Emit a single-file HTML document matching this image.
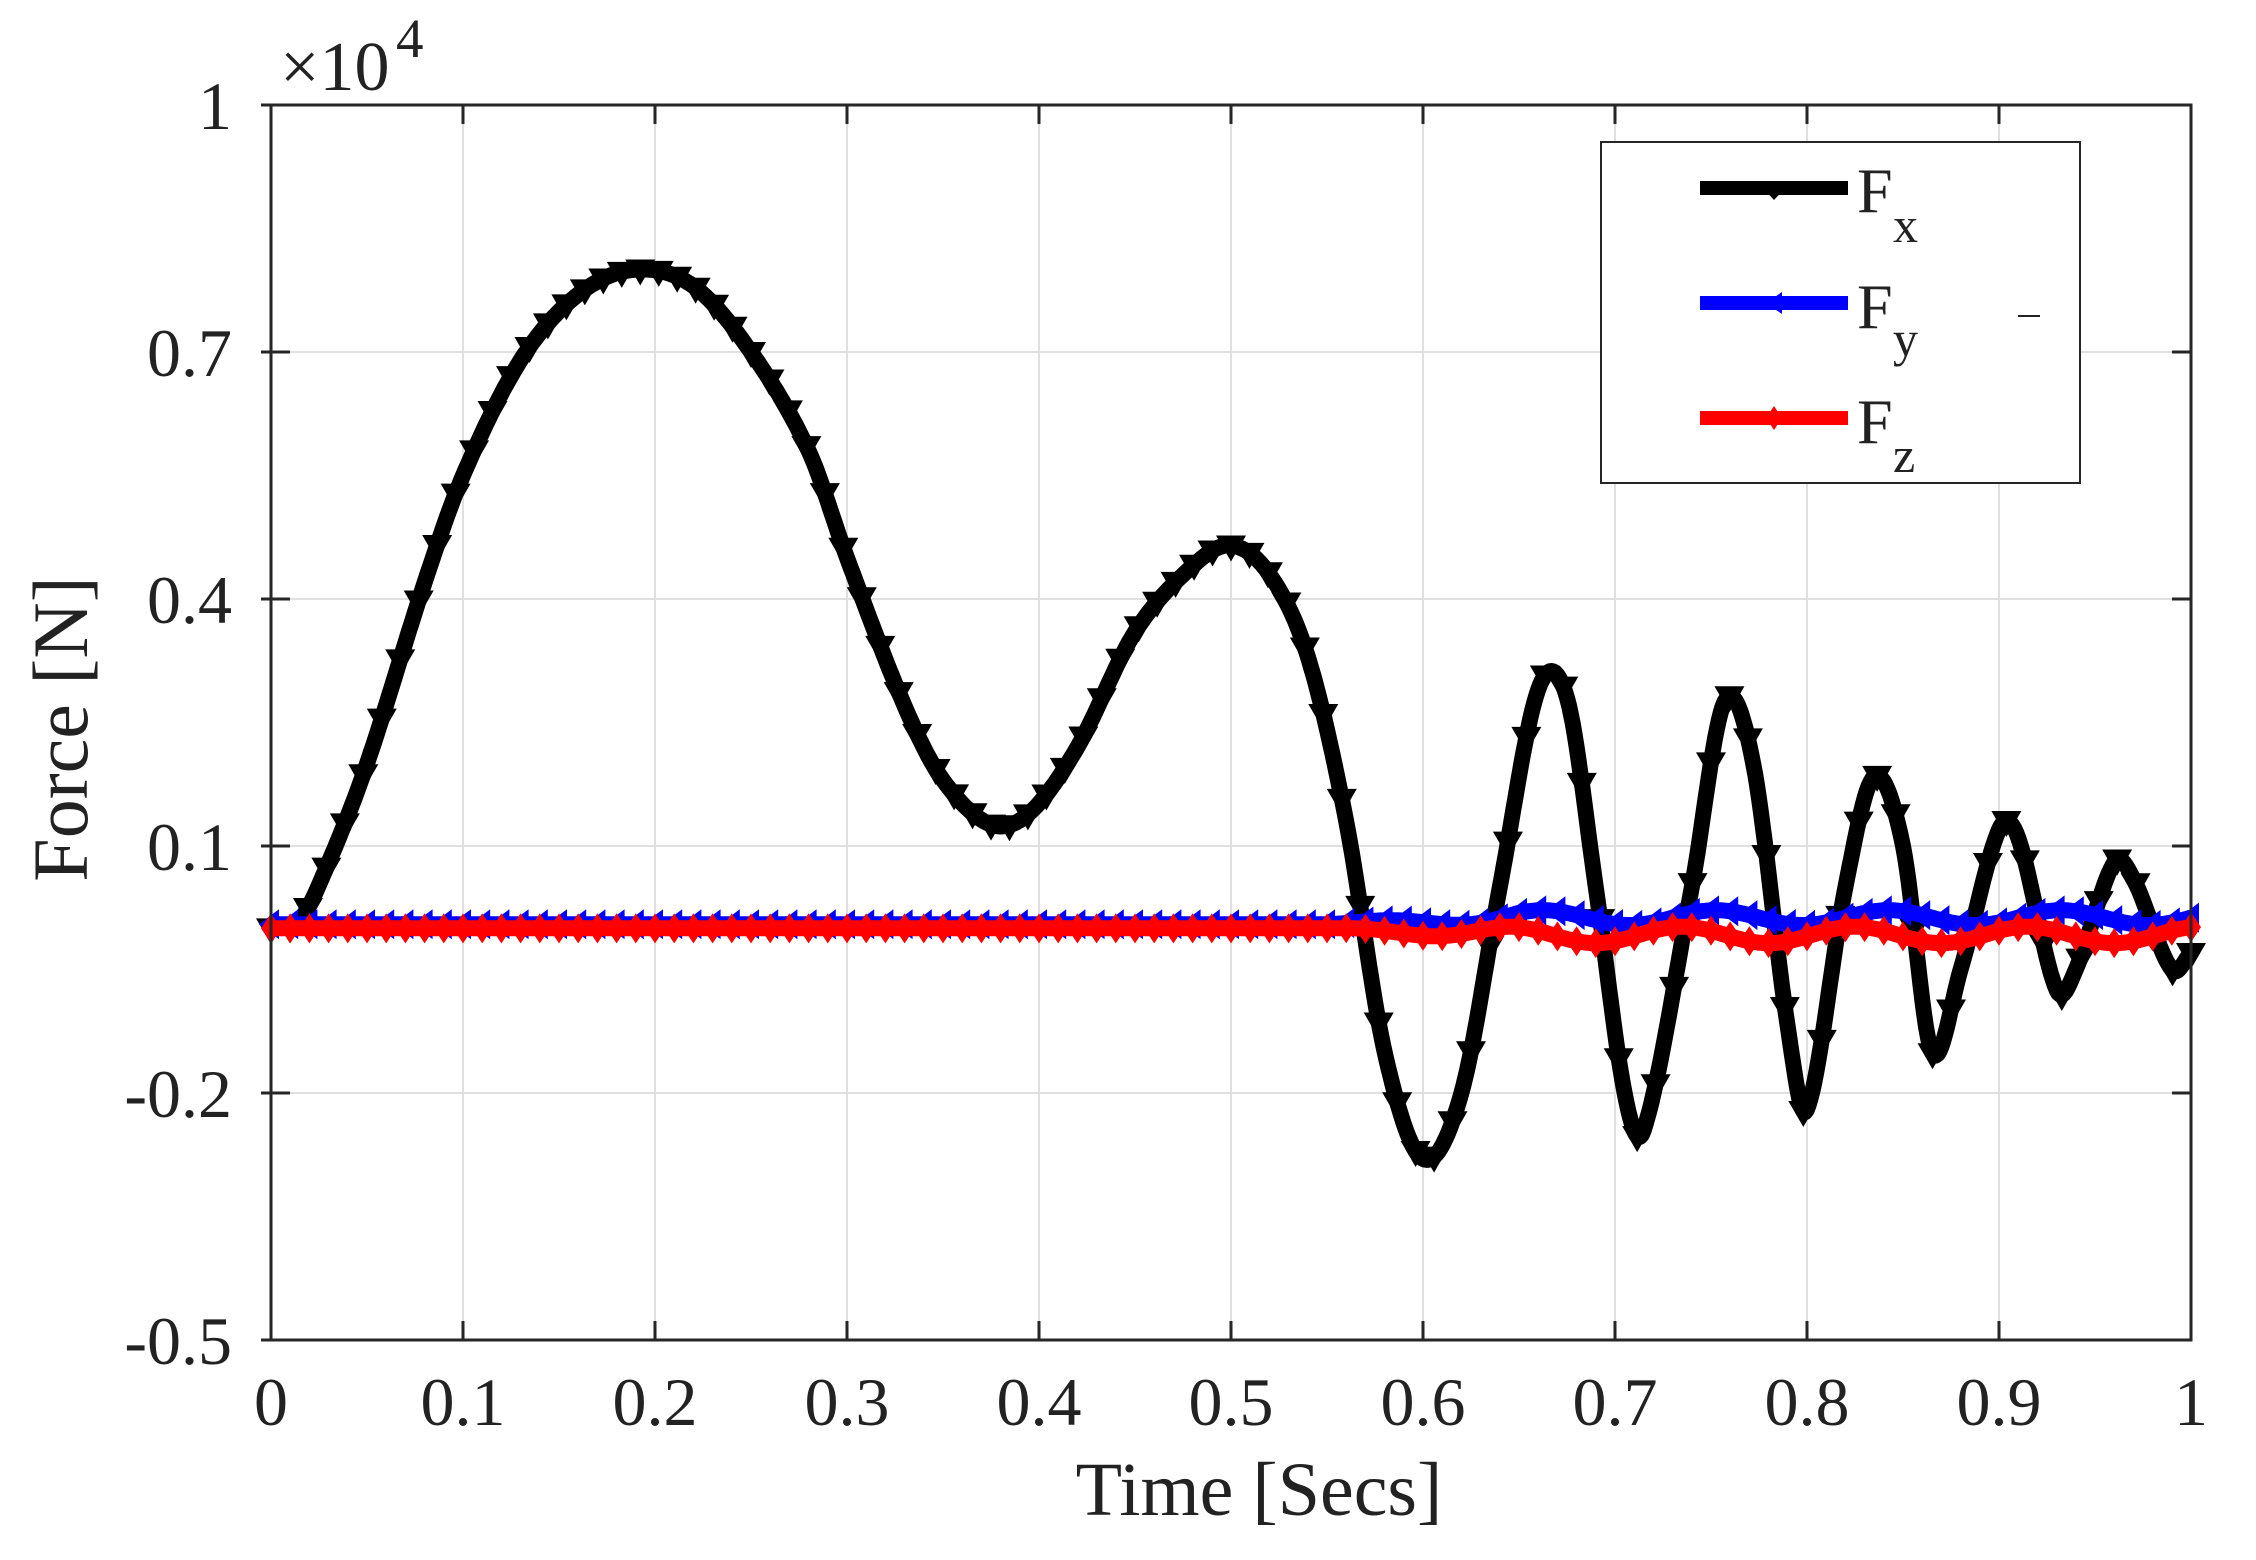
<!DOCTYPE html>
<html><head><meta charset="utf-8"><style>
html,body{margin:0;padding:0;background:#fff;}
svg{display:block;}
text{font-family:"Liberation Serif",serif;fill:#222;}
</style></head><body>
<svg id="s" width="2256" height="1560" viewBox="0 0 2256 1560" xmlns="http://www.w3.org/2000/svg">
<rect width="2256" height="1560" fill="#fff"/>
<g id="grid" stroke="#e0e0e0" stroke-width="2"></g>
<g id="data"></g>
<rect x="271" y="105" width="1920" height="1235" fill="none" stroke="#262626" stroke-width="3"/>
<g id="ticks" stroke="#262626" stroke-width="3"></g>
<g id="labels" font-size="68"></g>
<text x="280" y="90" font-size="70">×10</text><text x="396" y="57" font-size="55">4</text>
<text x="1259" y="1515" font-size="76" text-anchor="middle">Time [Secs]</text>
<text transform="translate(87,729) rotate(-90)" font-size="78" text-anchor="middle">Force [N]</text>
<g id="legend">
<rect x="1601" y="142" width="479" height="341" fill="#fff" stroke="#262626" stroke-width="2"/>
<line x1="1700" y1="188" x2="1848" y2="188" stroke="#000" stroke-width="14"/>
<path d="M1758,183 L1790,183 L1774,200Z" fill="#000"/>
<line x1="1700" y1="303" x2="1848" y2="303" stroke="#00f" stroke-width="14"/>
<path d="M1782,292 L1782,314 L1766,303Z" fill="#00f"/>
<line x1="1700" y1="418" x2="1848" y2="418" stroke="#f00" stroke-width="14"/>
<path d="M1774,406 L1782,418 L1774,430 L1766,418Z" fill="#f00"/>
<text x="1857" y="212" font-size="64">F</text><text x="1893" y="242" font-size="50">x</text>
<text x="1857" y="328" font-size="64">F</text><text x="1893" y="356" font-size="50">y</text>
<text x="1857" y="443" font-size="64">F</text><text x="1893" y="472" font-size="50">z</text>
<line x1="2018" y1="316" x2="2040" y2="316" stroke="#222" stroke-width="2"/>
</g>
</svg>
<script>
const NS="http://www.w3.org/2000/svg";
const L=271,R=2191,T=105,B=1340;
const X=t=>L+t*(R-L), Y=v=>T+(1-v)/1.5*(B-T);
function el(p,n,a){const e=document.createElementNS(NS,n);for(const k in a)e.setAttribute(k,a[k]);p.appendChild(e);return e;}
const grid=document.getElementById('grid'),ticks=document.getElementById('ticks'),labels=document.getElementById('labels');
for(let i=0;i<=10;i++){const x=X(i/10);
 if(i>0&&i<10)el(grid,'line',{x1:x,y1:T,x2:x,y2:B});
 el(ticks,'line',{x1:x,y1:B,x2:x,y2:B-19});el(ticks,'line',{x1:x,y1:T,x2:x,y2:T+19});
 const t=el(labels,'text',{x:x,y:1425,'text-anchor':'middle'});t.textContent=i==0?'0':i==10?'1':'0.'+i;}
const yv=[1,0.7,0.4,0.1,-0.2,-0.5];
yv.forEach(v=>{const y=Y(v);
 if(v<1&&v>-0.5)el(grid,'line',{x1:L,y1:y,x2:R,y2:y});
 el(ticks,'line',{x1:L-10,y1:y,x2:L+19,y2:y});el(ticks,'line',{x1:R,y1:y,x2:R-19,y2:y});
 const t=el(labels,'text',{x:232,y:y+24,'text-anchor':'end'});t.textContent=v;});
const fx=[[0,0],[0.015,0.01],[0.03,0.08],[0.05,0.2],[0.08,0.42],[0.1,0.55],[0.13,0.69],[0.16,0.77],[0.19,0.80],[0.22,0.78],[0.25,0.70],[0.28,0.58],[0.3,0.45],[0.33,0.27],[0.35,0.18],[0.375,0.126],[0.395,0.14],[0.42,0.22],[0.45,0.36],[0.48,0.44],[0.5,0.465],[0.52,0.43],[0.54,0.33],[0.56,0.13],[0.58,-0.15],[0.6,-0.28],[0.62,-0.2],[0.64,0.05],[0.66,0.29],[0.675,0.28],[0.69,0.05],[0.705,-0.2],[0.715,-0.245],[0.74,0.05],[0.757,0.275],[0.772,0.2],[0.79,-0.12],[0.8,-0.22],[0.82,0.05],[0.835,0.184],[0.85,0.1],[0.865,-0.15],[0.88,-0.05],[0.9,0.12],[0.91,0.11],[0.93,-0.075],[0.94,-0.05],[0.96,0.08],[0.97,0.06],[0.99,-0.05],[1,-0.03]];
function interp(pts,t){let i=0;while(i<pts.length-2&&pts[i+1][0]<t)i++;
 const p0=pts[Math.max(i-1,0)],p1=pts[i],p2=pts[i+1],p3=pts[Math.min(i+2,pts.length-1)];
 const u=(t-p1[0])/(p2[0]-p1[0]);const m1=(p2[1]-p0[1])/(p2[0]-p0[0]||1)*(p2[0]-p1[0]),m2=(p3[1]-p1[1])/(p3[0]-p1[0]||1)*(p2[0]-p1[0]);
 const u2=u*u,u3=u2*u;return (2*u3-3*u2+1)*p1[1]+(u3-2*u2+u)*m1+(-2*u3+3*u2)*p2[1]+(u3-u2)*m2;}
const fxf=t=>interp(fx,t);
const amp=t=>t<0.55?0:Math.min(1,(t-0.55)/0.1);
const fyf=t=>0.005+amp(t)*(0.008+0.009*Math.sin(2*Math.PI*(t-0.64)/0.09));
const fzf=t=>-amp(t)*(0.008+0.01*Math.cos(2*Math.PI*(t-0.6)/0.09));
const data=document.getElementById('data');
function series(f,col,N,mk,w){let d='';const n=1000;for(let i=0;i<=n;i++){const t=i/n;d+=(i?'L':'M')+X(t).toFixed(1)+','+Y(f(t)).toFixed(1);}
 el(data,'path',{d:d,fill:'none',stroke:col,'stroke-width':w,'stroke-linejoin':'round'});
 let m='';for(let i=0;i<=N;i++){const t=i/N,x=X(t),y=Y(f(t));m+=mk(x,y);} el(data,'path',{d:m,fill:col});}
series(fxf,'#000',104,(x,y)=>`M${x-15},${y-10}L${x+15},${y-10}L${x},${y+16}Z`,16);
series(fyf,'#00f',100,(x,y)=>`M${x+8},${y-15}L${x+8},${y+15}L${x-12},${y}Z`,16);
series(fzf,'#f00',100,(x,y)=>`M${x},${y-15}L${x+10},${y}L${x},${y+15}L${x-10},${y}Z`,16);
</script>
</body></html>
